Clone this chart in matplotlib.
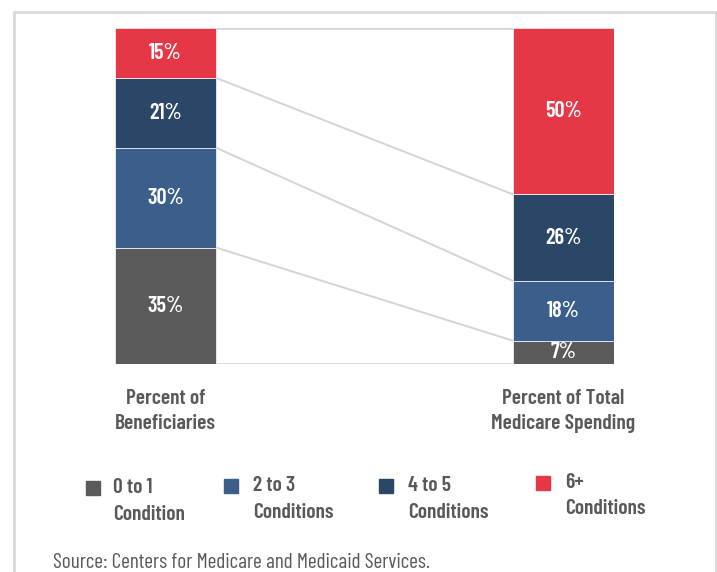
import matplotlib
matplotlib.use('Agg')
import matplotlib.pyplot as plt
from matplotlib.patches import Rectangle
import numpy as np

# data
categories = ['Percent of\nBeneficiaries', 'Percent of Total\nMedicare Spending']
groups = ['0 to 1\nCondition', '2 to 3\nConditions', '4 to 5\nConditions', '6+\nConditions']
beneficiaries = [35, 30, 21, 15]
spending = [7, 18, 26, 50]
colors = ['#5a5a5a', '#3b5f8a', '#2a4768', '#e63746']

plt.rcParams['font.family'] = ['Barlow Condensed', 'DejaVu Sans']
txt_color = '#58595b'
line_color = '#d4d4d4'

W, H = 717, 572
fig = plt.figure(figsize=(W / 100, H / 100), dpi=100)

# outer frame
fig.patches.append(Rectangle((13.5 / W, -0.05), (716 - 13.5) / W, 1.05 - 11.5 / H,
                             transform=fig.transFigure, fill=False,
                             edgecolor='#d9d9d9', linewidth=2))

ax = fig.add_axes([115 / W, 1 - 364 / H, (614 - 115) / W, (364 - 28) / H])

w = 0.254
x = np.array([0, 1])
vals = np.array([beneficiaries, spending]).T  # rows = groups
bottom = np.zeros(2)
for i, g in enumerate(groups):
    ax.bar(x, vals[i], width=w, bottom=bottom, color=colors[i],
           edgecolor='white', linewidth=0.5, zorder=3)
    for xi, v, b in zip(x, vals[i], bottom):
        ax.text(xi, b + v / 2, f'{v}%', ha='center', va='center', color='white',
                fontsize=16, fontweight=600, zorder=4)
    bottom = bottom + vals[i]

total = bottom.max()
ax.set_xlim(-w / 2, 1 + w / 2)
ax.set_ylim(0, total)

# top and bottom rules
ax.axhline(0, color=line_color, linewidth=1.8, zorder=1)
ax.axhline(total, color=line_color, linewidth=1.8, zorder=1)

# connectors between matching cumulative boundaries
cum_l = np.cumsum(beneficiaries)[:-1]
cum_r = np.cumsum(spending)[:-1]
for yl, yr in zip(cum_l, cum_r):
    ax.plot([w / 2, 1 - w / 2], [yl, yr], color=line_color, linewidth=1.4, zorder=2)

for s in ax.spines.values():
    s.set_visible(False)
ax.set_yticks([])
ax.set_xticks(x)
ax.set_xticklabels(categories, fontsize=15.5, fontweight=600, color=txt_color,
                   multialignment='center', linespacing=1.4)
ax.tick_params(axis='x', length=0, pad=18)

# legend
leg_pos = [(86, 481, 113, 478), (224, 479, 253, 476), (379, 479, 408, 476), (536, 476, 565, 473)]
for (mx, my, tx, ty), g, c in zip(leg_pos, groups, colors):
    fig.patches.append(Rectangle((mx / W, 1 - (my + 14) / H), 14 / W, 14 / H,
                                 transform=fig.transFigure, color=c))
    fig.text(tx / W, 1 - ty / H, g, ha='left', va='top', fontsize=15.5,
             fontweight=600, color=txt_color, linespacing=1.5)

fig.text(53 / W, 1 - 553 / H, 'Source: Centers for Medicare and Medicaid Services.',
         ha='left', va='top', fontsize=15.3, color=txt_color)

fig.savefig('out.png', dpi=100, facecolor='white')
